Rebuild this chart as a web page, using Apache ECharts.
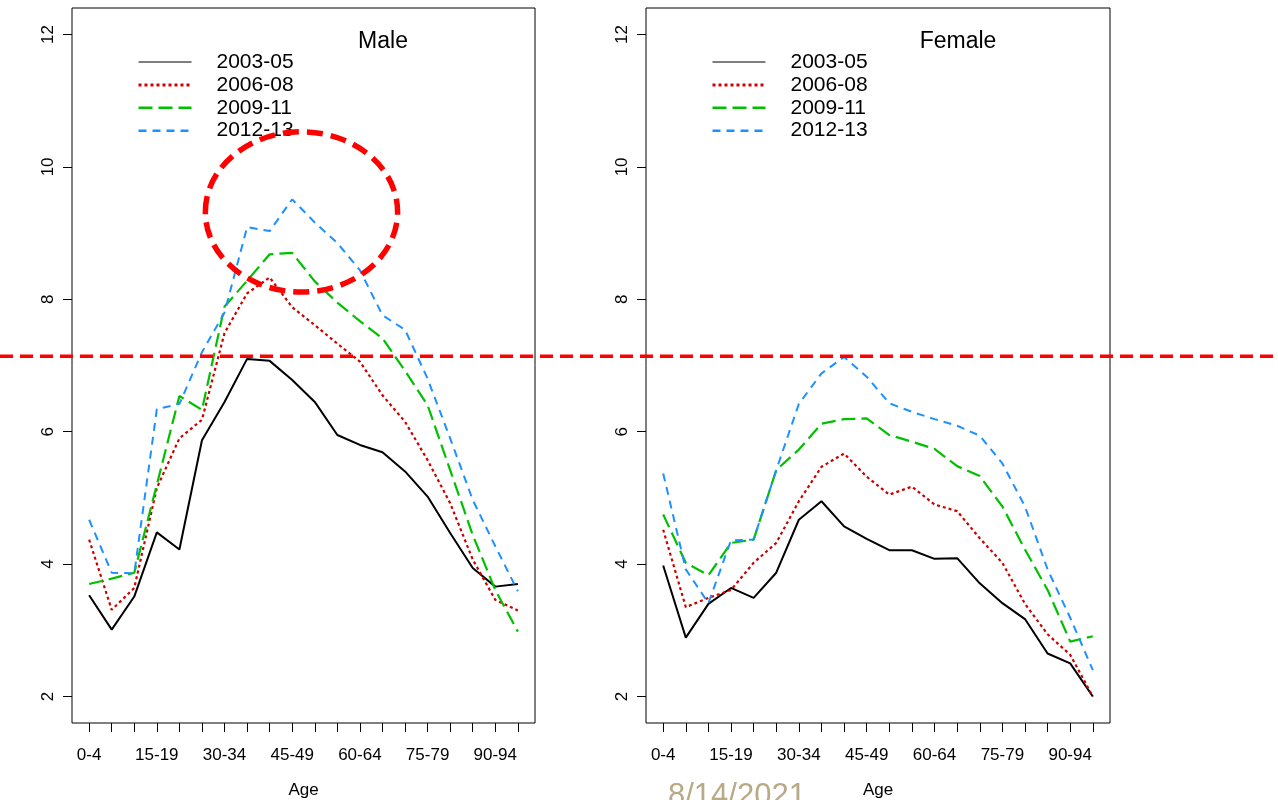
<!DOCTYPE html>
<html><head><meta charset="utf-8">
<script src="https://cdn.jsdelivr.net/npm/echarts@6/dist/echarts.min.js"></script>
<style>html,body{margin:0;padding:0;background:#fff}#c{width:1278px;height:800px}</style>
</head><body><div id="c"></div>
<script>
const categories = ['0-4','5-9','10-14','15-19','20-24','25-29','30-34','35-39','40-44','45-49','50-54','55-59','60-64','65-69','70-74','75-79','80-84','85-89','90-94','95+'];
const yTicks = [2,4,6,8,10,12];
const xLabelIdx = [1,4,7,10,13,16,19];
const periods = ['2003-05','2006-08','2009-11','2012-13'];

const male2003 = [3.53,3.01,3.51,4.48,4.22,5.87,6.45,7.10,7.07,6.78,6.45,5.95,5.80,5.69,5.40,5.02,4.47,3.94,3.66,3.70];
const male2006 = [4.37,3.31,3.64,5.15,5.90,6.18,7.49,8.09,8.33,7.88,7.61,7.33,7.06,6.55,6.15,5.57,4.92,4.07,3.46,3.30];
const male2009 = [3.70,3.78,3.87,5.20,6.54,6.33,7.89,8.28,8.68,8.70,8.27,7.95,7.67,7.41,6.92,6.40,5.42,4.44,3.61,2.98];
const male2012 = [4.67,3.87,3.86,6.34,6.42,7.20,7.80,9.09,9.03,9.51,9.16,8.85,8.44,7.76,7.54,6.80,5.90,4.97,4.27,3.59];

const female2003 = [3.98,2.89,3.40,3.64,3.49,3.87,4.67,4.95,4.57,4.38,4.21,4.21,4.08,4.09,3.71,3.41,3.17,2.65,2.50,2.00];
const female2006 = [4.52,3.35,3.49,3.61,4.02,4.32,4.95,5.47,5.67,5.32,5.05,5.17,4.90,4.80,4.39,4.02,3.40,2.94,2.63,2.00];
const female2009 = [4.75,4.02,3.83,4.32,4.37,5.42,5.73,6.12,6.19,6.20,5.95,5.85,5.74,5.48,5.33,4.87,4.22,3.61,2.83,2.91];
const female2012 = [5.37,3.92,3.41,4.36,4.37,5.42,6.42,6.88,7.13,6.83,6.43,6.30,6.19,6.09,5.94,5.52,4.87,3.92,3.19,2.40];

const refLineValue = 7.14;
const ellipseCenter = [10.41, 9.32];
const ellipseRadius = [4.26, 1.21];

const FONT = 'Liberation Sans, Arial, sans-serif';
const styles = [
  {color:'#000000', width:2, type:'solid'},
  {color:'#CD0000', width:2.2, type:[3,3]},
  {color:'#00C000', width:2.2, type:[14,6]},
  {color:'#1E90FF', width:2, type:[8,6]}
];
const maleData = [male2003, male2006, male2009, male2012];
const femaleData = [female2003, female2006, female2009, female2012];
const toPts = arr => arr.map((v,i)=>[i+1, v]);

function xAxis(gi){
  return {type:'value', gridIndex:gi, min:0.24, max:20.76,
    name:'Age', nameLocation:'middle', nameGap:59,
    nameTextStyle:{fontFamily:FONT, fontSize:17, color:'#000'},
    axisLine:{show:false}, splitLine:{show:false},
    axisTick:{show:true, length:9, customValues:categories.map((c,i)=>i+1), lineStyle:{color:'#000', width:1}},
    axisLabel:{customValues:xLabelIdx, margin:24, fontFamily:FONT, fontSize:17, color:'#000',
      formatter: v => categories[Math.round(v)-1] || ''}
  };
}
function yAxis(gi){
  return {type:'value', gridIndex:gi, min:1.6, max:12.4,
    axisLine:{show:false}, splitLine:{show:false},
    axisTick:{show:true, length:9, customValues:yTicks, lineStyle:{color:'#000', width:1}},
    axisLabel:{customValues:yTicks, rotate:90, margin:15, fontFamily:FONT, fontSize:17, color:'#000'}
  };
}
const series = [];
[maleData, femaleData].forEach((set, gi)=>{
  set.forEach((arr, k)=>{
    series.push({type:'line', name:periods[k], xAxisIndex:gi, yAxisIndex:gi, data:toPts(arr),
      symbol:'none', animation:false, silent:true,
      lineStyle:{color:styles[k].color, width:styles[k].width, type:styles[k].type},
      itemStyle:{color:styles[k].color}});
  });
});
function legend(left){
  return {orient:'vertical', left:left, top:51.5, padding:0, itemWidth:53, itemHeight:14, itemGap:1.9,
    selectedMode:false,
    textStyle:{fontFamily:FONT, fontSize:21, color:'#000', lineHeight:21, padding:[0,0,0,20]},
    data: periods.map((p,k)=>({name:p, itemStyle:{opacity:0, borderWidth:0},
      lineStyle:{color:styles[k].color, width:k===0?1.2:(k===1?3:2.6), type:styles[k].type}}))};
}
const chart = echarts.init(document.getElementById('c'), null, {renderer:'canvas'});
chart.setOption({
  animation:false,
  backgroundColor:'#fff',
  title:[
    {text:'Male', left:383, top:42, padding:0, textAlign:'center', textVerticalAlign:'middle', textStyle:{fontFamily:FONT, fontSize:23, fontWeight:'normal', color:'#000'}},
    {text:'Female', left:958, top:42, padding:0, textAlign:'center', textVerticalAlign:'middle', textStyle:{fontFamily:FONT, fontSize:23, fontWeight:'normal', color:'#000'}}
  ],
  legend:[legend(137), legend(711)],
  grid:[
    {left:72, top:8, width:463, height:715, outerBoundsMode:'none', containLabel:false, show:true, borderColor:'#000', borderWidth:1, backgroundColor:'transparent'},
    {left:646, top:8, width:464, height:715, outerBoundsMode:'none', containLabel:false, show:true, borderColor:'#000', borderWidth:1, backgroundColor:'transparent'}
  ],
  xAxis:[xAxis(0), xAxis(1)],
  yAxis:[yAxis(0), yAxis(1)],
  series: series
});
const yLine = chart.convertToPixel({gridIndex:0}, [1, refLineValue])[1];
const c = chart.convertToPixel({gridIndex:0}, ellipseCenter);
const e = chart.convertToPixel({gridIndex:0}, [ellipseCenter[0]+ellipseRadius[0], ellipseCenter[1]+ellipseRadius[1]]);
chart.setOption({
  graphic:[
    {type:'line', shape:{x1:0, y1:yLine, x2:1278, y2:yLine}, style:{stroke:'#FF0000', lineWidth:3.5, lineDash:[13,7]}, z:100, silent:true},
    {type:'ellipse', shape:{cx:c[0], cy:c[1], rx:Math.abs(e[0]-c[0]), ry:Math.abs(c[1]-e[1])}, style:{fill:'none', stroke:'#FF0000', lineWidth:5.5, lineDash:[16,8]}, z:100, silent:true},
    {type:'text', left:668, top:781, style:{text:'8/14/2021', font:'31px ' + FONT, fill:'#B8A987'}, z:100, silent:true}
  ]
});
</script></body></html>
